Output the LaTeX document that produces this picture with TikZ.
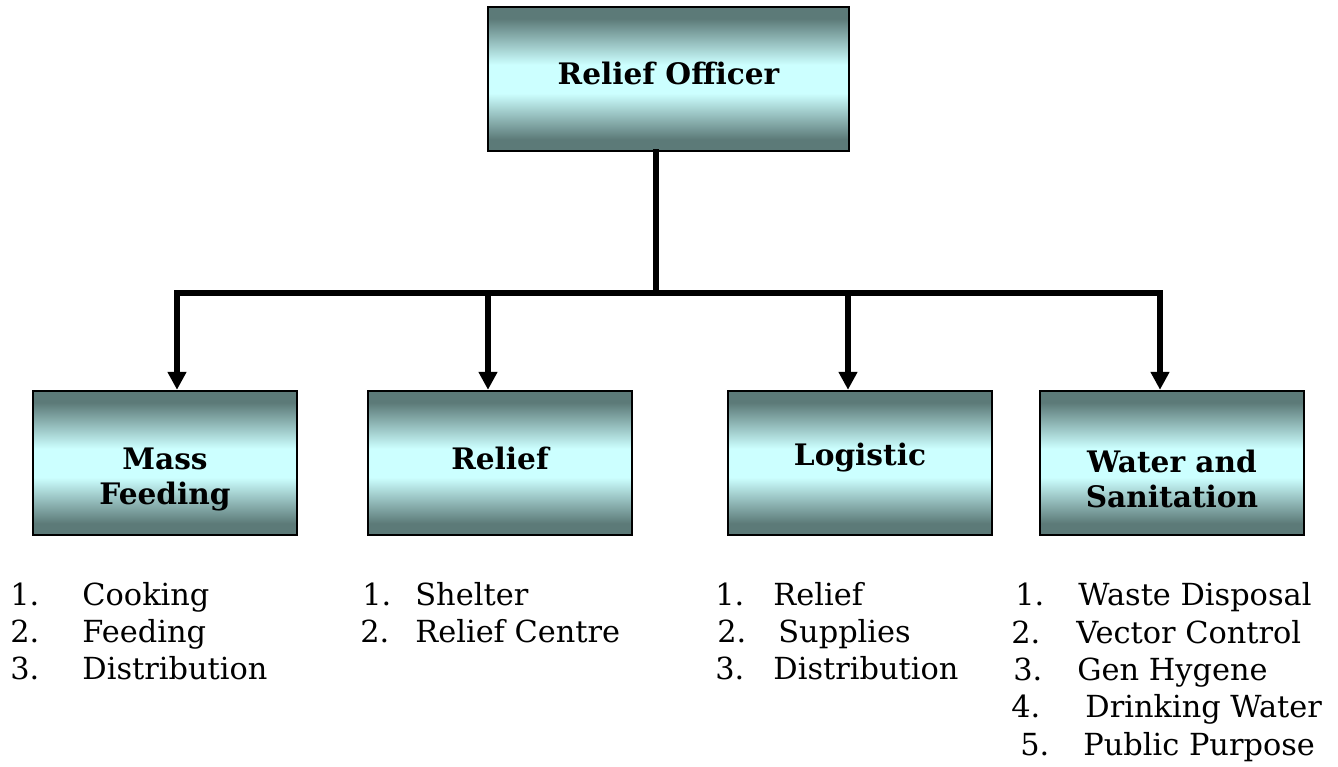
\documentclass[tikz,border=0pt]{standalone}
\usepackage{fontspec}
\setmainfont{DejaVu Serif}
\usetikzlibrary{arrows.meta, positioning}
\definecolor{boxdark}{RGB}{92,122,120}
\definecolor{boxlight}{RGB}{204,255,255}
\pgfdeclareverticalshading{boxshade}{100bp}{color(0bp)=(boxdark); color(25bp)=(boxdark);
  color(29bp)=(boxdark); color(45bp)=(boxlight); color(55bp)=(boxlight);
  color(71bp)=(boxdark); color(75bp)=(boxdark); color(100bp)=(boxdark)}
\tikzset{
  >=latex,
  % Riquadri
  box/.style={draw=black, line width=1.2pt, shade, shading=boxshade, minimum height=72pt, inner sep=0pt},
  box top/.style={box, minimum width=180.5pt},
  box sub/.style={box, minimum width=132pt},
  box text/.style={align=center, inner sep=0pt, font=\fontsize{14.8}{17.5}\selectfont\bfseries},
  % Connessioni
  connect/.style={line width=3pt, line cap=rect},
  connect arrow/.style={line width=3pt, -{Triangle[length=9pt,width=9pt]}},
  % Elenchi
  item/.style={anchor=base west, inner sep=0pt, font=\fontsize{15.2}{18.5}\selectfont}
}
\begin{document}
\begin{tikzpicture}[x=0.5pt,y=-0.5pt]
  \useasboundingbox (0,0) rectangle (1338,766);
  % riquadri
  \node[box top] (officer) at (668.5,79) {};
  \node[box sub] (feed) at (165,463) {};
  \node[box sub] (relief) at (500,463) {};
  \node[box sub] (logistic) at (860,463) {};
  \node[box sub] (water) at (1172,463) {};
  \node[box text] (officer-t) at ([yshift=3pt]officer.center) {Relief Officer};
  \node[box text] (feed-t) at ([yshift=-8pt]feed.center) {Mass\\Feeding};
  \node[box text] (relief-t) at ([yshift=2.5pt]relief.center) {Relief};
  \node[box text] (logistic-t) at ([yshift=2.5pt]logistic.center) {Logistic};
  \node[box text] (water-t) at ([yshift=-8pt]water.center) {Water and\\Sanitation};
  % collegamenti
  \coordinate (bus) at (656,293);
  \coordinate (d1) at (177,293);
  \coordinate (d2) at (488,293);
  \coordinate (d3) at (848,293);
  \coordinate (d4) at (1160,293);
  \draw[connect] (bus |- officer.south) -- (bus);
  \draw[connect] (d1) -- (d4);
  \foreach \d/\b in {d1/feed, d2/relief, d3/logistic, d4/water}
    \draw[connect arrow] (\d) -- (\d |- \b.north);
  % elenchi
  \foreach \xn/\xt/\y/\t [count=\i] in {10/82/605/Cooking, 10/82/642/Feeding, 10/82/679/Distribution}{
    \node[item] (mf\i) at (\xn,\y) {\i.};
    \node[item] (mf\i t) at (\xt,\y) {\t};
  }
  \foreach \xn/\xt/\y/\t [count=\i] in {362/415/605/Shelter, 360/415/642/Relief Centre}{
    \node[item] (rl\i) at (\xn,\y) {\i.};
    \node[item] (rl\i t) at (\xt,\y) {\t};
  }
  \foreach \xn/\xt/\y/\t [count=\i] in {715/773/605/Relief, 717/778/642/Supplies, 715/773/679/Distribution}{
    \node[item] (lg\i) at (\xn,\y) {\i.};
    \node[item] (lg\i t) at (\xt,\y) {\t};
  }
  \foreach \xn/\xt/\y/\t [count=\i] in {1015/1078/605/Waste Disposal, 1011/1076/643/Vector Control,
      1013/1077/680/Gen Hygene, 1011/1085/717/Drinking Water, 1020/1083/755/Public Purpose}{
    \node[item] (ws\i) at (\xn,\y) {\i.};
    \node[item] (ws\i t) at (\xt,\y) {\t};
  }
\end{tikzpicture}
\end{document}
